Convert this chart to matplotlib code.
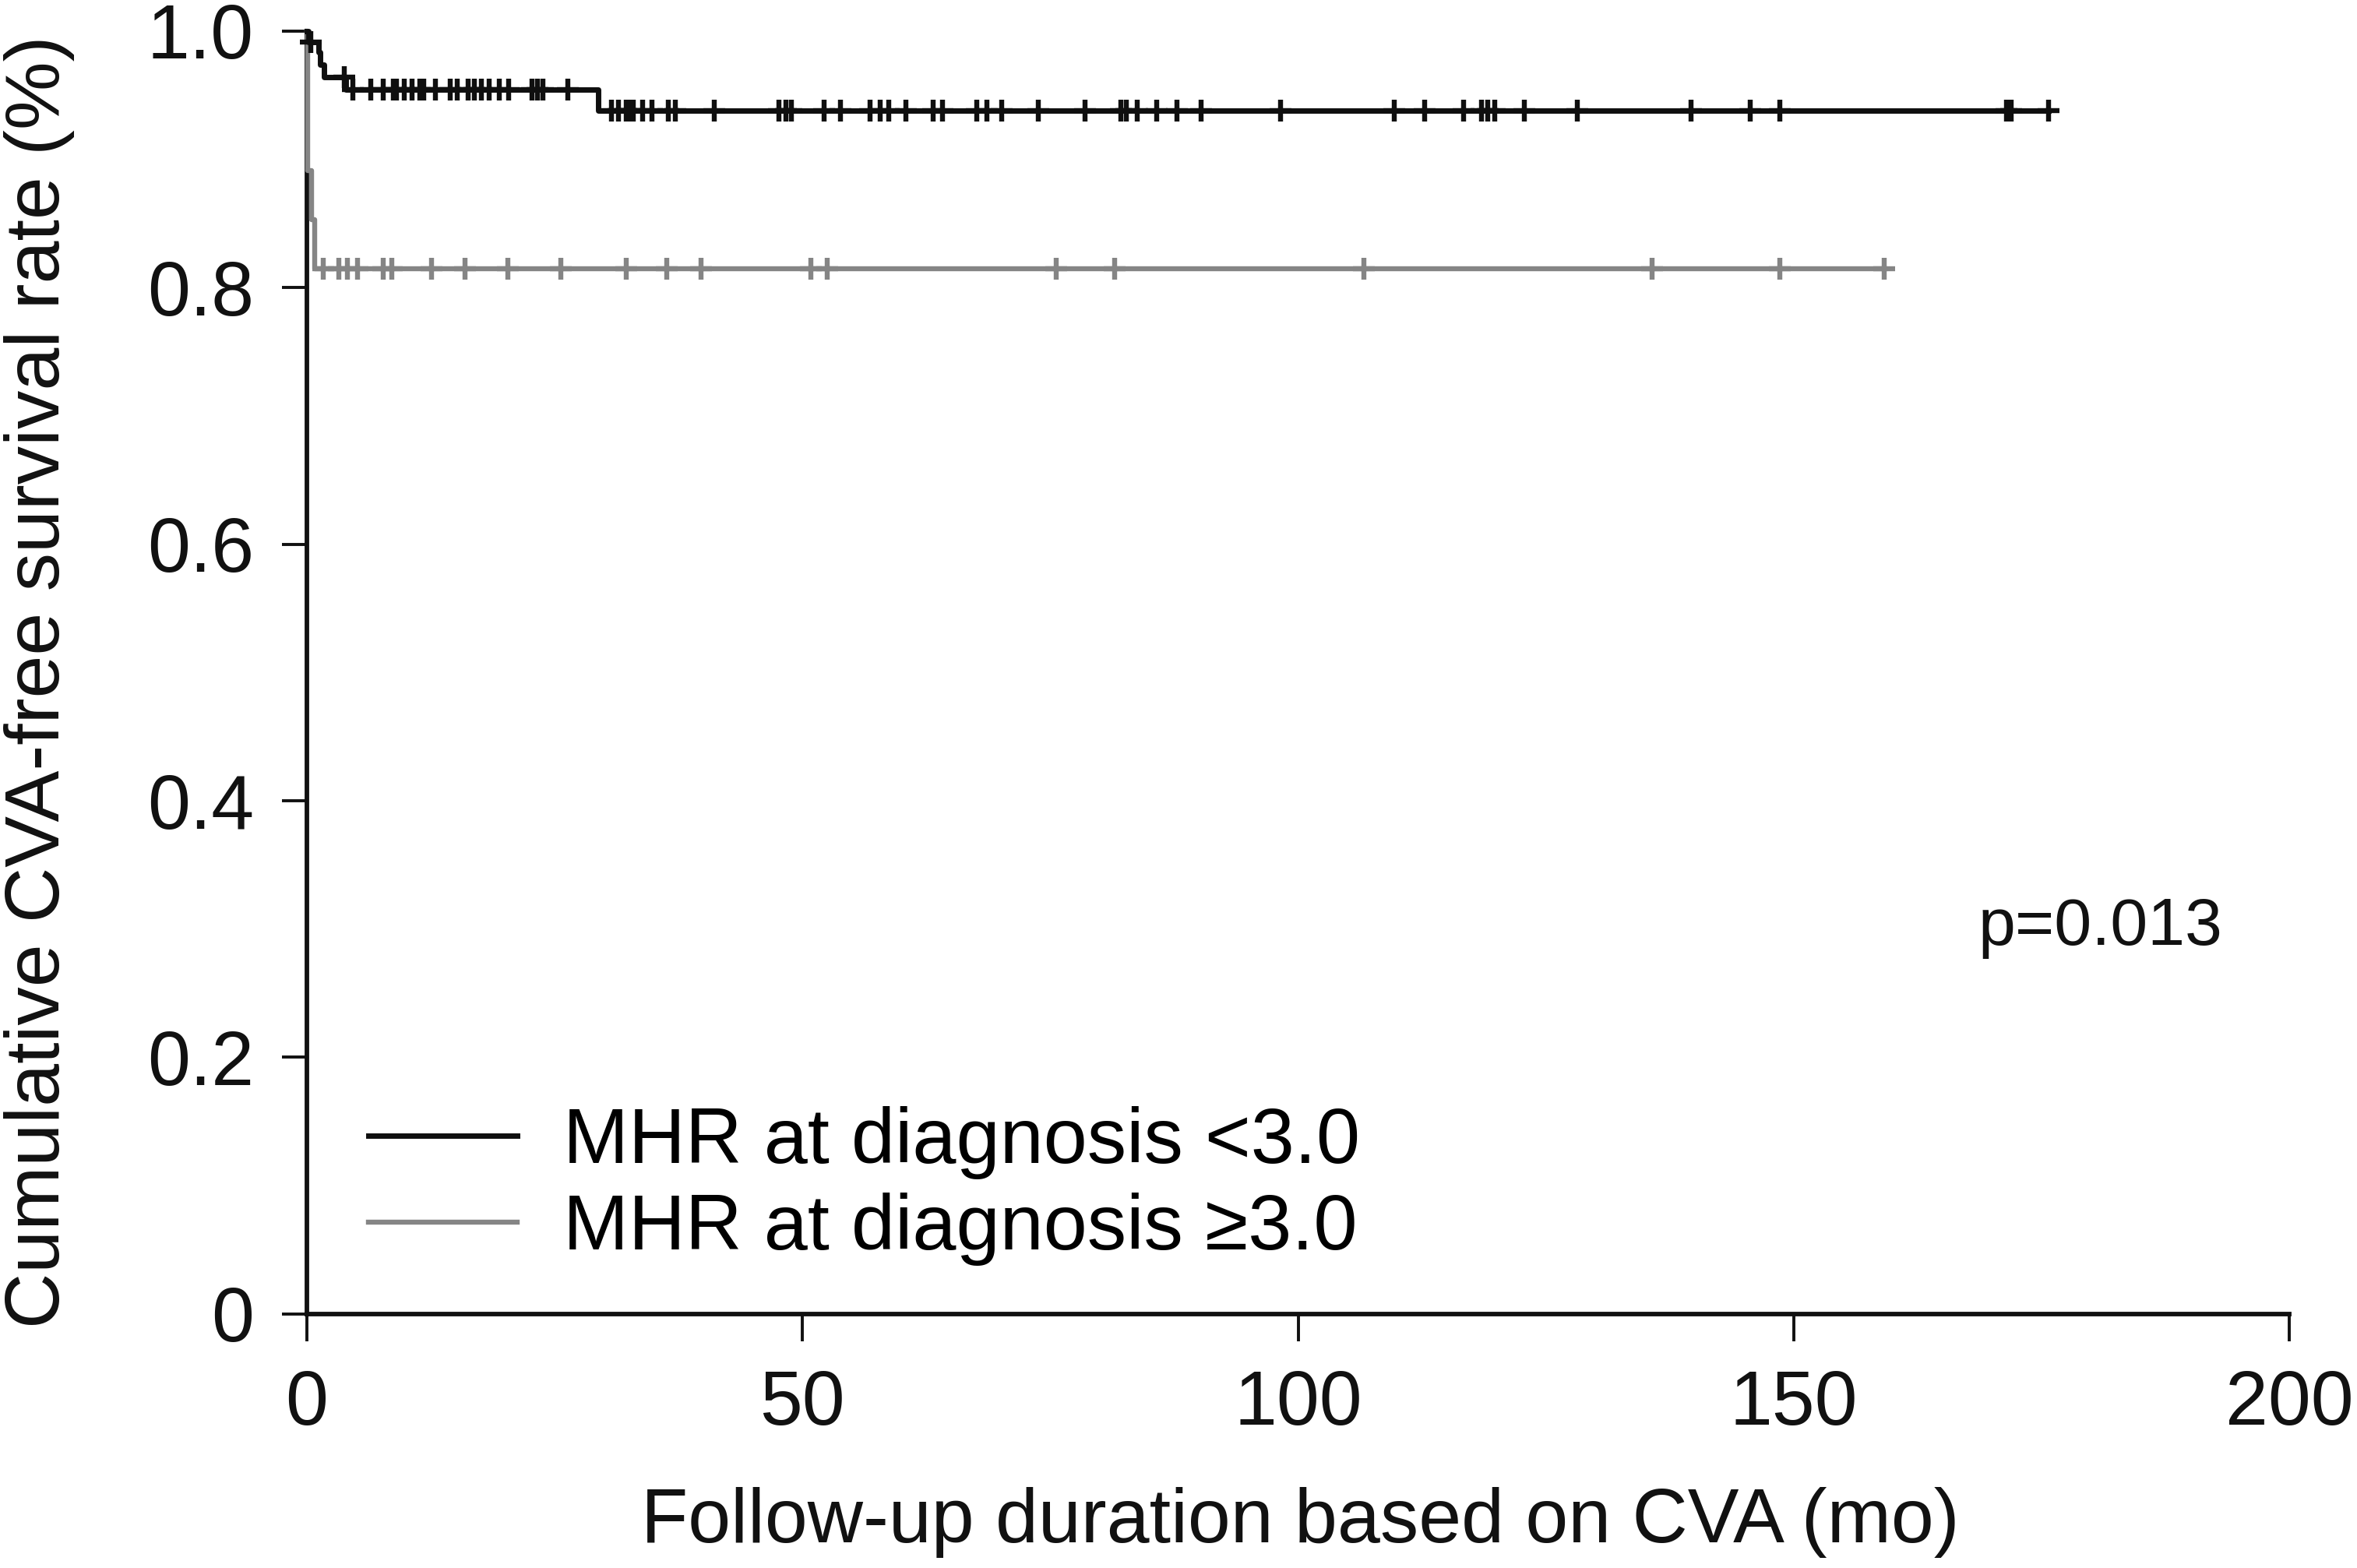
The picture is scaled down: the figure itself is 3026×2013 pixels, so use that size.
import numpy as np
import matplotlib
matplotlib.use("Agg")
import matplotlib.pyplot as plt

plt.rcParams['font.family'] = ['Liberation Sans', 'DejaVu Sans']

# MHR < 3.0 (black)
low_event_t = [0.15, 1.2, 1.35, 1.75, 3.9, 29.4]
low_event_s = [0.9913, 0.9838, 0.9737, 0.9642, 0.9545, 0.938]
low_censor_t = [0.4, 3.8, 4.65, 6.46, 7.67, 8.7, 9.0, 9.84, 10.6, 11.4, 11.8, 12.95,
                14.45, 15.2, 16.3, 16.9, 17.6, 18.4, 19.4, 20.35, 22.7, 23.3, 23.8,
                26.3, 30.7, 31.4, 32.2, 32.5, 32.9, 33.9, 34.8, 36.5, 37.2, 41.1,
                47.6, 48.3, 48.9, 52.2, 53.8, 56.8, 57.8, 58.7, 60.4, 63.2, 64.1,
                67.6, 68.6, 70.1, 73.8, 78.5, 82.1, 82.7, 83.8, 85.7, 87.8, 90.2,
                98.2, 109.7, 112.8, 116.7, 118.5, 119.1, 119.8, 122.8, 128.2,
                139.6, 145.6, 148.6, 171.5, 171.9, 175.7]

# MHR >= 3.0 (gray)
high_event_t = [0.1, 0.5, 0.8]
high_event_s = [0.891, 0.853, 0.815]
high_censor_t = [1.63, 3.21, 4.12, 5.11, 7.72, 8.58, 12.59, 15.97, 20.26, 25.62,
                 32.25, 36.27, 39.74, 50.87, 52.5, 75.56, 81.5, 106.6, 135.7,
                 148.6, 159.1]

labels = ['MHR at diagnosis <3.0', 'MHR at diagnosis \u22653.0']
colors = ['#0f0f0f', '#858585']
x_ticks = [0, 50, 100, 150, 200]
y_ticks = [0, 0.2, 0.4, 0.6, 0.8, 1.0]
y_ticklabels = ['0', '0.2', '0.4', '0.6', '0.8', '1.0']


def km_curve(ax, event_t, event_s, censor_t, color, label, lw):
    t = np.concatenate([[0.0], event_t, [max(censor_t)]])
    s = np.concatenate([[1.0], event_s, [event_s[-1]]])
    ax.step(t, s, where='post', color=color, lw=lw, label=label,
            clip_on=False, zorder=3)
    levels = np.concatenate([[1.0], event_s])
    idx = np.searchsorted(event_t, censor_t, side='right')
    ax.plot(censor_t, levels[idx], '+', color=color, ms=10, mew=2.3,
            clip_on=False, zorder=3)


fig = plt.figure(figsize=(15.13, 10.065), dpi=200)
ax = fig.add_axes([0.1302, 0.162, 0.8411, 0.8182])

km_curve(ax, high_event_t, high_event_s, high_censor_t, colors[1], labels[1], 2.3)
km_curve(ax, low_event_t, low_event_s, low_censor_t, colors[0], labels[0], 2.5)

ax.set_xlim(0, 200)
ax.set_ylim(0, 1.0)
ax.set_xticks(x_ticks)
ax.set_yticks(y_ticks)
ax.set_yticklabels(y_ticklabels)
for side in ['top', 'right']:
    ax.spines[side].set_visible(False)
for side in ['left', 'bottom']:
    ax.spines[side].set_linewidth(2.1)
    ax.spines[side].set_color('#111111')
ax.tick_params(axis='both', direction='out', width=1.4, color='#111111',
               labelsize=35.5, labelcolor='#111111')
ax.tick_params(axis='y', length=11.5, pad=13)
ax.tick_params(axis='x', length=12.6, pad=13)

ax.set_xlabel('Follow-up duration based on CVA (mo)', fontsize=35.5, color='#111111')
ax.set_ylabel('Cumulative CVA-free survival rate (%)', fontsize=35.5, color='#111111',
              va='center')
ax.xaxis.set_label_coords(0.501, -0.135)
ax.yaxis.set_label_coords(-0.135, 0.493)

handles, labs = ax.get_legend_handles_labels()
order = [labs.index(l) for l in labels]
ax.legend([handles[i] for i in order], [labs[i] for i in order],
          loc='upper left', bbox_to_anchor=(0.031, 0.162), frameon=False,
          fontsize=36.3, handlelength=1.9, handletextpad=0.58, labelspacing=0.17,
          borderpad=0, borderaxespad=0)

ax.text(0.843, 0.288, 'p=0.013', transform=ax.transAxes, fontsize=31,
        color='#111111', ha='left', va='baseline')

fig.savefig('out.png', dpi=200)
